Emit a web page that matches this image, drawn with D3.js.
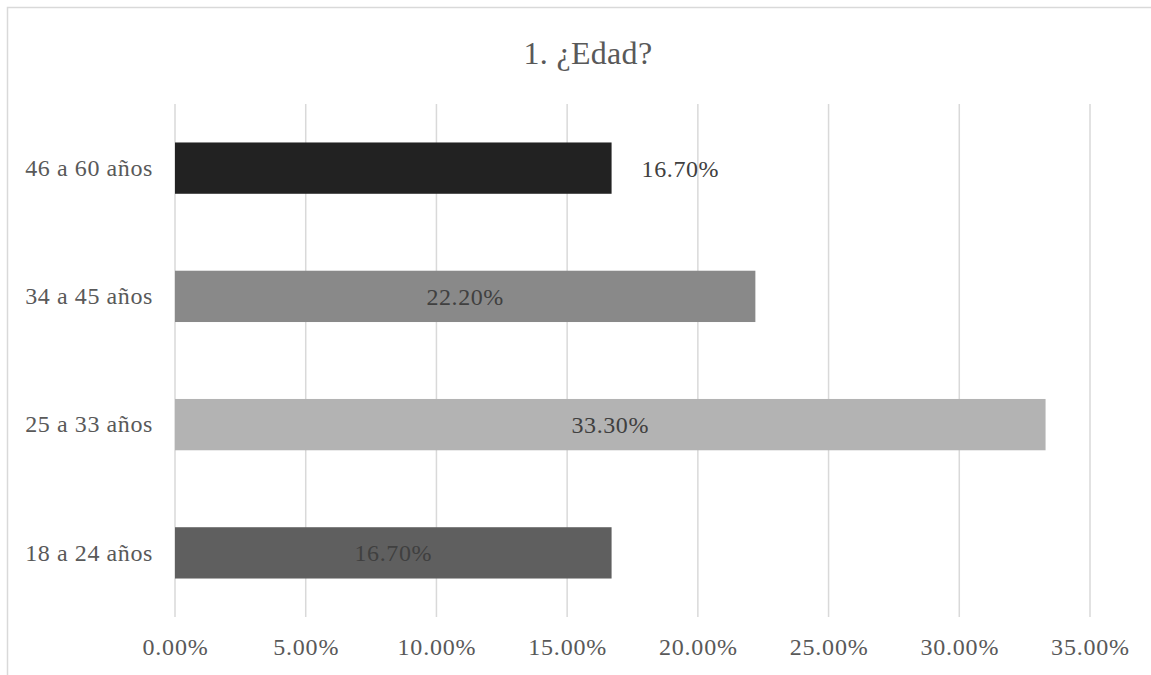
<!DOCTYPE html>
<html>
<head>
<meta charset="utf-8">
<script src="https://cdn.jsdelivr.net/npm/d3@7"></script>
<style>
  body { margin: 0; background: #fff; }
  svg { display: block; }
</style>
</head>
<body>
<div id="chart"></div>
<script>
// Data (top to bottom)
const categories = ['46 a 60 años', '34 a 45 años', '25 a 33 años', '18 a 24 años'];
const values = [0.167, 0.222, 0.333, 0.167];
const barColors = ['#222222', '#898989', '#b3b3b3', '#5f5f5f'];
const ticks = [0, 0.05, 0.10, 0.15, 0.20, 0.25, 0.30, 0.35];
const title = '1. ¿Edad?';

const width = 1151;
const height = 675;
const font = '"Liberation Serif", "DejaVu Serif", serif';

const svg = d3.select('#chart')
  .append('svg')
  .attr('width', width)
  .attr('height', height);

// Chart border
svg.append('rect')
  .attr('x', 7.5)
  .attr('y', 7.5)
  .attr('width', width + 10)
  .attr('height', height + 10)
  .attr('fill', 'none')
  .attr('stroke', '#d9d9d9')
  .attr('stroke-width', 1.5);

// Scales
const x = d3.scaleLinear()
  .domain([0, 0.35])
  .range([175, 1090]);

const y = d3.scaleBand()
  .domain(categories)
  .range([104, 617])
  .paddingInner(0.6)
  .paddingOuter(0.3);

// Title
svg.append('text')
  .attr('x', 588)
  .attr('y', 64)
  .attr('text-anchor', 'middle')
  .attr('font-family', font)
  .attr('font-size', '32px')
  .attr('letter-spacing', '0.3px')
  .attr('fill', '#595959')
  .text(title);

// Gridlines
svg.append('g')
  .selectAll('line')
  .data(ticks)
  .join('line')
  .attr('x1', d => x(d))
  .attr('x2', d => x(d))
  .attr('y1', 104)
  .attr('y2', 617)
  .attr('stroke', '#d9d9d9')
  .attr('stroke-width', 1.5);

// X axis labels
const xAxis = svg.append('g')
  .attr('transform', 'translate(0,640)')
  .call(d3.axisBottom(x).tickValues(ticks).tickFormat(d3.format('.2%')).tickSize(0));
xAxis.select('.domain').remove();
xAxis.selectAll('text')
  .attr('font-family', font)
  .attr('font-size', '24px')
  .attr('letter-spacing', '0.8px')
  .attr('fill', '#595959')
  .attr('dy', '0.71em')
  .attr('y', -2);

// Y axis labels
const yAxis = svg.append('g')
  .attr('transform', 'translate(153,0)')
  .call(d3.axisLeft(y).tickSize(0).tickPadding(0));
yAxis.select('.domain').remove();
yAxis.selectAll('text')
  .attr('font-family', font)
  .attr('font-size', '24px')
  .attr('letter-spacing', '0.6px')
  .attr('fill', '#595959');

// Bars
svg.append('g')
  .selectAll('rect')
  .data(categories)
  .join('rect')
  .attr('x', x(0))
  .attr('y', d => y(d))
  .attr('width', (d, i) => x(values[i]) - x(0))
  .attr('height', y.bandwidth())
  .attr('fill', (d, i) => barColors[i]);

// Data labels: first one sits outside the bar end, others centred in the bar
svg.append('g')
  .selectAll('text')
  .data(categories)
  .join('text')
  .attr('x', (d, i) => i === 0 ? x(values[i]) + 30 : (x(0) + x(values[i])) / 2)
  .attr('y', d => y(d) + y.bandwidth() / 2)
  .attr('dy', '0.35em')
  .attr('text-anchor', (d, i) => i === 0 ? 'start' : 'middle')
  .attr('font-family', font)
  .attr('font-size', '24px')
  .attr('letter-spacing', '0.6px')
  .attr('fill', '#404040')
  .text((d, i) => d3.format('.2%')(values[i]));
</script>
</body>
</html>
